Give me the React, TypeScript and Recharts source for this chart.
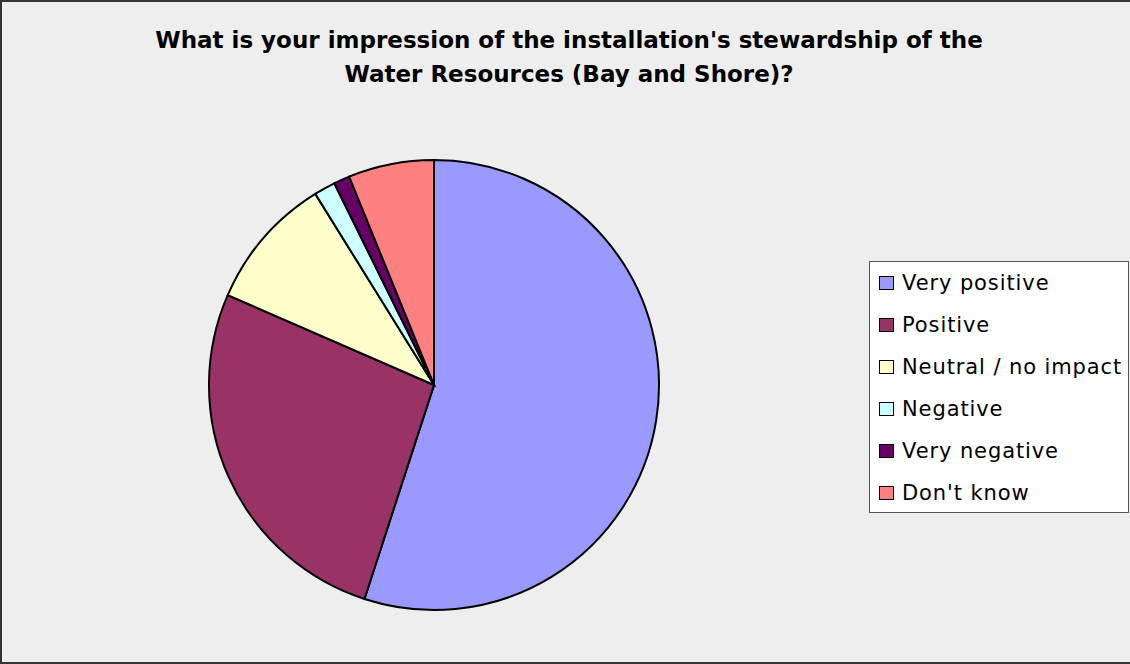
import { PieChart, Pie, Cell, Legend } from 'recharts';

const labels = ['Very positive', 'Positive', 'Neutral / no impact', 'Negative', 'Very negative', "Don't know"];
const values = [143, 69, 25, 4, 3, 16];
const colors = ['#9999FF', '#993366', '#FFFFCC', '#CCFFFF', '#660066', '#FF8080'];
const titleLines = ["What is your impression of the installation's stewardship of the", 'Water Resources (Bay and Shore)?'];

const data = labels.map((name, i) => ({ name, value: values[i] }));

const renderLegend = () => (
  <div
    style={{
      background: '#FFFFFF',
      border: '1px solid #555',
      width: 260,
      height: 252,
      boxSizing: 'border-box',
      padding: '0 0 0 9px',
      fontFamily: 'DejaVu Sans, sans-serif',
      fontSize: 21,
      letterSpacing: 0.9,
      color: '#000',
    }}
  >
    {data.map((d, i) => (
      <div key={d.name} style={{ display: 'flex', alignItems: 'center', height: 42 }}>
        <span
          style={{
            display: 'inline-block',
            width: 13,
            height: 12,
            background: colors[i],
            border: '1px solid #000',
            marginRight: 8,
            flexShrink: 0,
          }}
        />
        <span style={{ whiteSpace: 'nowrap' }}>{d.name}</span>
      </div>
    ))}
  </div>
);

export default function App() {
  return (
    <div
      style={{
        position: 'absolute',
        left: 0,
        top: 0,
        width: 1130,
        height: 664,
        background: '#EEEEEE',
        borderLeft: '2px solid #333',
        borderTop: '2px solid #333',
        borderBottom: '2px solid #333',
        boxSizing: 'border-box',
        overflow: 'hidden',
      }}
    >
      <div
        style={{
          position: 'absolute',
          left: 0,
          top: 21,
          width: 1134,
          textAlign: 'center',
          fontFamily: 'DejaVu Sans, sans-serif',
          fontWeight: 'bold',
          fontSize: 23,
          lineHeight: '34px',
          color: '#000',
        }}
      >
        {titleLines.map((t) => (
          <div key={t}>{t}</div>
        ))}
      </div>
      <div style={{ position: 'absolute', left: -2, top: -2 }}>
        <PieChart width={1130} height={664} margin={{ top: 0, right: 0, bottom: 0, left: 0 }}>
          <Pie
            data={data}
            dataKey="value"
            nameKey="name"
            cx={434}
            cy={385}
            outerRadius={225}
            startAngle={90}
            endAngle={-270}
            stroke="#000"
            strokeWidth={2}
            isAnimationActive={false}
          >
            {data.map((d, i) => (
              <Cell key={d.name} fill={colors[i]} />
            ))}
          </Pie>
          <Legend
            content={renderLegend}
            layout="vertical"
            wrapperStyle={{ position: 'absolute', left: 869, top: 261, width: 260, height: 252 }}
          />
        </PieChart>
      </div>
    </div>
  );
}
